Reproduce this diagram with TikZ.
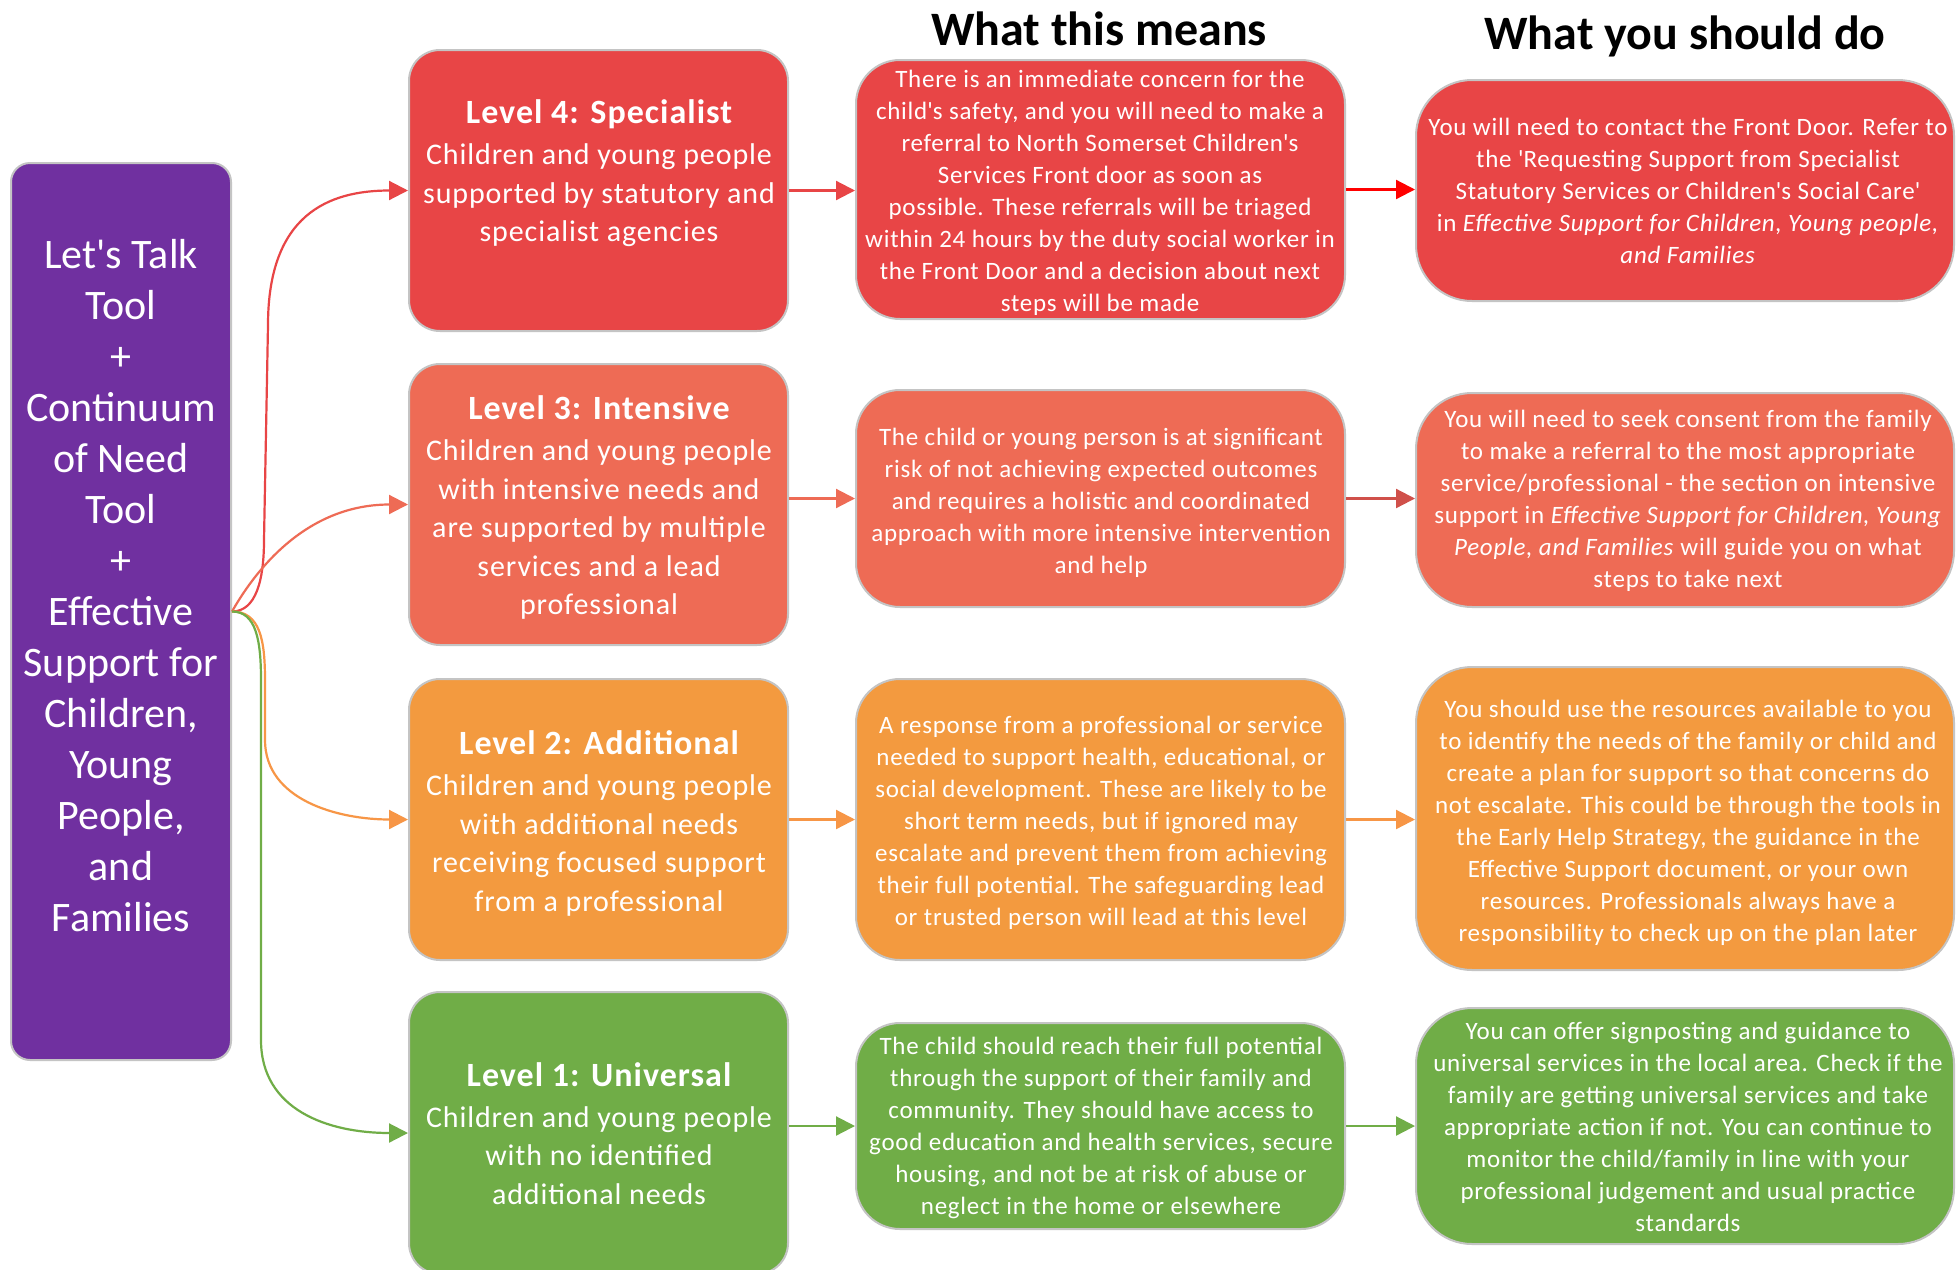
\documentclass[tikz,border=0pt]{standalone}
\usepackage{fontspec}
\setmainfont{Carlito}
\newfontfamily\lsBody{Carlito}[LetterSpace=3]
\usetikzlibrary{arrows.meta}
\definecolor{cPurple}{HTML}{7030A0}
\definecolor{cRed}{HTML}{E84546}
\definecolor{cRedB}{HTML}{FF0000}
\definecolor{cCoral}{HTML}{EE6B55}
\definecolor{cCoralD}{HTML}{D0504A}
\definecolor{cOrange}{HTML}{F39A3F}
\definecolor{cOrangeL}{HTML}{F79646}
\definecolor{cGreen}{HTML}{70AD47}
\definecolor{cBorder}{HTML}{C4C4C4}
\newcommand\ap{\textquotesingle}
\newcommand\lvltitle[1]{{\fontsize{34}{38.5}\lsBody\bfseries #1}\\[2.5pt]}
\tikzset{
  basebox/.style={draw=cBorder, line width=2pt, inner sep=0pt},
  lvlbox/.style={basebox, rounded corners=31pt, minimum width=379pt, minimum height=281pt},
  midbox/.style={basebox, rounded corners=44pt, minimum width=489pt},
  dobox/.style={basebox, rounded corners=56pt, minimum width=538pt},
  txt/.style={text=white, align=center, inner sep=0pt},
  t1/.style={txt, font=\fontsize{30}{38.5}\lsBody},
  t2/.style={txt, font=\fontsize{25}{32}\lsBody},
  header/.style={font=\fontsize{48}{56}\selectfont\bfseries, inner sep=0pt, anchor=base},
  conn/.style={line width=2.2pt, draw=#1, -{Triangle[length=19pt,width=19pt,fill=#1]}},
}
\begin{document}
\begin{tikzpicture}[x=1pt,y=-1pt]
\useasboundingbox[fill=white] (0,0) rectangle (1956,1269);

% headers
\node[header] (h1) at (1099,45) {What this means};
\node[header] (h2) at (1685,49) {What you should do};

% purple box
\node[basebox, rounded corners=19pt, fill=cPurple, minimum width=220pt, minimum height=897pt] (purple) at (121,611.5) {};
\node[txt, font=\fontsize{42}{51}\selectfont] (purplet) at (121,586)
  {Let\ap s Talk\\Tool\\+\\Continuum\\of Need\\Tool\\+\\Effective\\Support for\\Children,\\Young\\People,\\and\\Families};

% column 1
\node[lvlbox, fill=cRed] (l4) at (598.5,190.5) {};
\node[t1] (l4t) at (599,173.5)
  {\lvltitle{Level 4: Specialist}Children and young people\\supported by statutory and\\specialist agencies};
\node[lvlbox, fill=cCoral] (l3) at (598.5,504.5) {};
\node[t1] (l3t) at (599,507.5)
  {\lvltitle{Level 3: Intensive}Children and young people\\with intensive needs and\\are supported by multiple\\services and a lead\\professional};
\node[lvlbox, fill=cOrange] (l2) at (598.5,819.5) {};
\node[t1] (l2t) at (599,823.5)
  {\lvltitle{Level 2: Additional}Children and young people\\with additional needs\\receiving focused support\\from a professional};
\node[lvlbox, fill=cGreen, minimum height=282pt] (l1) at (598.5,1133) {};
\node[t1] (l1t) at (599,1133.5)
  {\lvltitle{Level 1: Universal}Children and young people\\with no identified\\additional needs};

% column 2
\node[midbox, fill=cRed, minimum height=259pt] (m4) at (1100.5,189.5) {};
\node[t2] (m4t) at (1100,192.5)
  {There is an immediate concern for the\\child\ap s safety, and you will need to make a\\referral to North Somerset Children\ap s\\Services Front door as soon as\\possible. These referrals will be triaged\\within 24 hours by the duty social worker in\\the Front Door and a decision about next\\steps will be made};
\node[midbox, fill=cCoral, minimum height=217pt] (m3) at (1100.5,498.5) {};
\node[t2] (m3t) at (1101,502.5)
  {The child or young person is at significant\\risk of not achieving expected outcomes\\and requires a holistic and coordinated\\approach with more intensive intervention\\and help};
\node[midbox, fill=cOrange, minimum height=281pt] (m2) at (1100.5,819.5) {};
\node[t2] (m2t) at (1101,822.5)
  {A response from a professional or service\\needed to support health, educational, or\\social development. These are likely to be\\short term needs, but if ignored may\\escalate and prevent them from achieving\\their full potential. The safeguarding lead\\or trusted person will lead at this level};
\node[midbox, fill=cGreen, minimum height=206pt] (m1) at (1100.5,1126) {};
\node[t2] (m1t) at (1101,1128)
  {The child should reach their full potential\\through the support of their family and\\community. They should have access to\\good education and health services, secure\\housing, and not be at risk of abuse or\\neglect in the home or elsewhere};

% column 3
\node[dobox, fill=cRed, minimum height=221pt] (r4) at (1685,190.5) {};
\node[t2] (r4t) at (1688,190.5)
  {You will need to contact the Front Door. Refer to\\the \ap Requesting Support from Specialist\\Statutory Services or Children\ap s Social Care\ap\\in \textit{Effective Support for Children, Young people,}\\\textit{and Families}};
\node[dobox, fill=cCoral, minimum height=214pt] (r3) at (1685,500) {};
\node[t2] (r3t) at (1688,501)
  {You will need to seek consent from the family\\to make a referral to the most appropriate\\service/professional - the section on intensive\\support in \textit{Effective Support for Children, Young}\\\textit{People, and Families} will guide you on what\\steps to take next};
\node[dobox, fill=cOrange, minimum height=303pt] (r2) at (1685,818.5) {};
\node[t2] (r2t) at (1688,822.5)
  {You should use the resources available to you\\to identify the needs of the family or child and\\create a plan for support so that concerns do\\not escalate. This could be through the tools in\\the Early Help Strategy, the guidance in the\\Effective Support document, or your own\\resources. Professionals always have a\\responsibility to check up on the plan later};
\node[dobox, fill=cGreen, minimum height=236pt] (r1) at (1685,1126) {};
\node[t2] (r1t) at (1688,1127)
  {You can offer signposting and guidance to\\universal services in the local area. Check if the\\family are getting universal services and take\\appropriate action if not. You can continue to\\monitor the child/family in line with your\\professional judgement and usual practice\\standards};

% connectors from purple box
\draw[conn=cRed] (purple.east) .. controls +(24,0) and +(0,40) .. (264,540) -- (268,325)
  .. controls +(0,-110) and +(-80,0) .. (l4.west);
\draw[conn=cCoral] (purple.east) .. controls (250,580) and (300,504.5) .. (l3.west);
\draw[conn=cOrangeL] (purple.east) .. controls +(28,0) and +(0,-40) .. (265,680) -- (265,740)
  .. controls +(0,60) and +(-70,0) .. (l2.west);
\draw[conn=cGreen] (purple.east) .. controls +(24,0) and +(0,-40) .. (261,680) -- (261,1040)
  .. controls +(0,70) and +(-80,0) .. (l1.west);

% horizontal connectors
\draw[conn=cRed] (l4.east) -- (l4.east -| m4.west);
\draw[conn=cRedB] (m4.east) -- (m4.east -| r4.west);
\draw[conn=cCoral] (l3.east |- m3.west) -- (m3.west);
\draw[conn=cCoralD] (m3.east) -- (m3.east -| r3.west);
\draw[conn=cOrangeL] (l2.east) -- (m2.west);
\draw[conn=cOrangeL] (m2.east) -- (m2.east -| r2.west);
\draw[conn=cGreen] (l1.east |- m1.west) -- (m1.west);
\draw[conn=cGreen] (m1.east) -- (m1.east -| r1.west);
\end{tikzpicture}
\end{document}
